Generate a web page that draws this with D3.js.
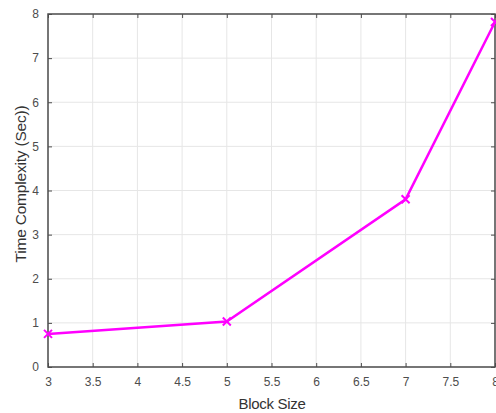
<!DOCTYPE html>
<html>
<head>
<meta charset="utf-8">
<script src="https://cdn.jsdelivr.net/npm/d3@7"></script>
<style>
  body { margin: 0; background: #fff; }
  text { font-family: "Liberation Sans", Arial, sans-serif; }
</style>
</head>
<body>
<svg id="chart"></svg>
<script>
// data
var blockSize = [3, 5, 7, 8];
var timeSec = [0.75, 1.03, 3.8, 7.82];
var xTicks = [3, 3.5, 4, 4.5, 5, 5.5, 6, 6.5, 7, 7.5, 8];
var yTicks = [0, 1, 2, 3, 4, 5, 6, 7, 8];

var width = 496, height = 413;
var margin = {top: 14, right: 1, bottom: 46, left: 48};
var w = width - margin.left - margin.right,
    h = height - margin.top - margin.bottom;

var svg = d3.select("#chart")
  .attr("width", width)
  .attr("height", height);

var g = svg.append("g")
  .attr("transform", "translate(" + margin.left + "," + margin.top + ")");

var x = d3.scaleLinear().domain([3, 8]).range([0, w]);
var y = d3.scaleLinear().domain([0, 8]).range([h, 0]);

// grid
g.append("g").selectAll("line")
  .data(xTicks)
  .join("line")
  .attr("x1", d => x(d)).attr("x2", d => x(d))
  .attr("y1", 0).attr("y2", h)
  .attr("stroke", "#e6e6e6");
g.append("g").selectAll("line")
  .data(yTicks)
  .join("line")
  .attr("y1", d => y(d)).attr("y2", d => y(d))
  .attr("x1", 0).attr("x2", w)
  .attr("stroke", "#e6e6e6");

// axes, ticks pointing inward
function styleAxis(sel) {
  sel.selectAll("line").attr("stroke", "#4d4d4d");
  sel.selectAll("text").attr("fill", "#4d4d4d").style("font-size", "12px");
}

g.append("g")
  .attr("transform", "translate(0," + h + ")")
  .call(d3.axisBottom(x).tickValues(xTicks).tickSizeInner(-4).tickSizeOuter(0).tickPadding(10).tickFormat(d3.format("")))
  .call(styleAxis)
  .call(s => s.select(".domain").remove());

g.append("g")
  .call(d3.axisTop(x).tickValues(xTicks).tickSizeInner(-4).tickSizeOuter(0).tickFormat(""))
  .call(styleAxis)
  .call(s => s.select(".domain").remove());

g.append("g")
  .call(d3.axisLeft(y).tickValues(yTicks).tickSizeInner(-4).tickSizeOuter(0).tickPadding(9))
  .call(styleAxis)
  .call(s => s.select(".domain").remove());

g.append("g")
  .attr("transform", "translate(" + w + ",0)")
  .call(d3.axisRight(y).tickValues(yTicks).tickSizeInner(-4).tickSizeOuter(0).tickFormat(""))
  .call(styleAxis)
  .call(s => s.select(".domain").remove());

// box
g.append("rect")
  .attr("x", 0).attr("y", 0).attr("width", w).attr("height", h)
  .attr("fill", "none").attr("stroke", "#4d4d4d").attr("stroke-width", 1.5);

// line
var pts = blockSize.map((d, i) => [d, timeSec[i]]);
g.append("path")
  .datum(pts)
  .attr("fill", "none")
  .attr("stroke", "#ff00ff")
  .attr("stroke-width", 2.5)
  .attr("d", d3.line().x(d => x(d[0])).y(d => y(d[1])));

// x markers
g.append("g").selectAll("path")
  .data(pts)
  .join("path")
  .attr("transform", d => "translate(" + x(d[0]) + "," + y(d[1]) + ")")
  .attr("d", "M-4,-4L4,4M-4,4L4,-4")
  .attr("stroke", "#ff00ff")
  .attr("stroke-width", 2);

// labels
svg.append("text")
  .attr("x", 272)
  .attr("y", 409)
  .attr("text-anchor", "middle")
  .attr("fill", "#333")
  .style("font-size", "15px")
  .style("letter-spacing", "-0.3px")
  .text("Block Size");

svg.append("text")
  .attr("transform", "translate(26,184) rotate(-90)")
  .attr("text-anchor", "middle")
  .attr("fill", "#333")
  .style("font-size", "15.5px")
  .style("letter-spacing", "-0.2px")
  .text("Time Complexity (Sec))");
</script>
</body>
</html>
